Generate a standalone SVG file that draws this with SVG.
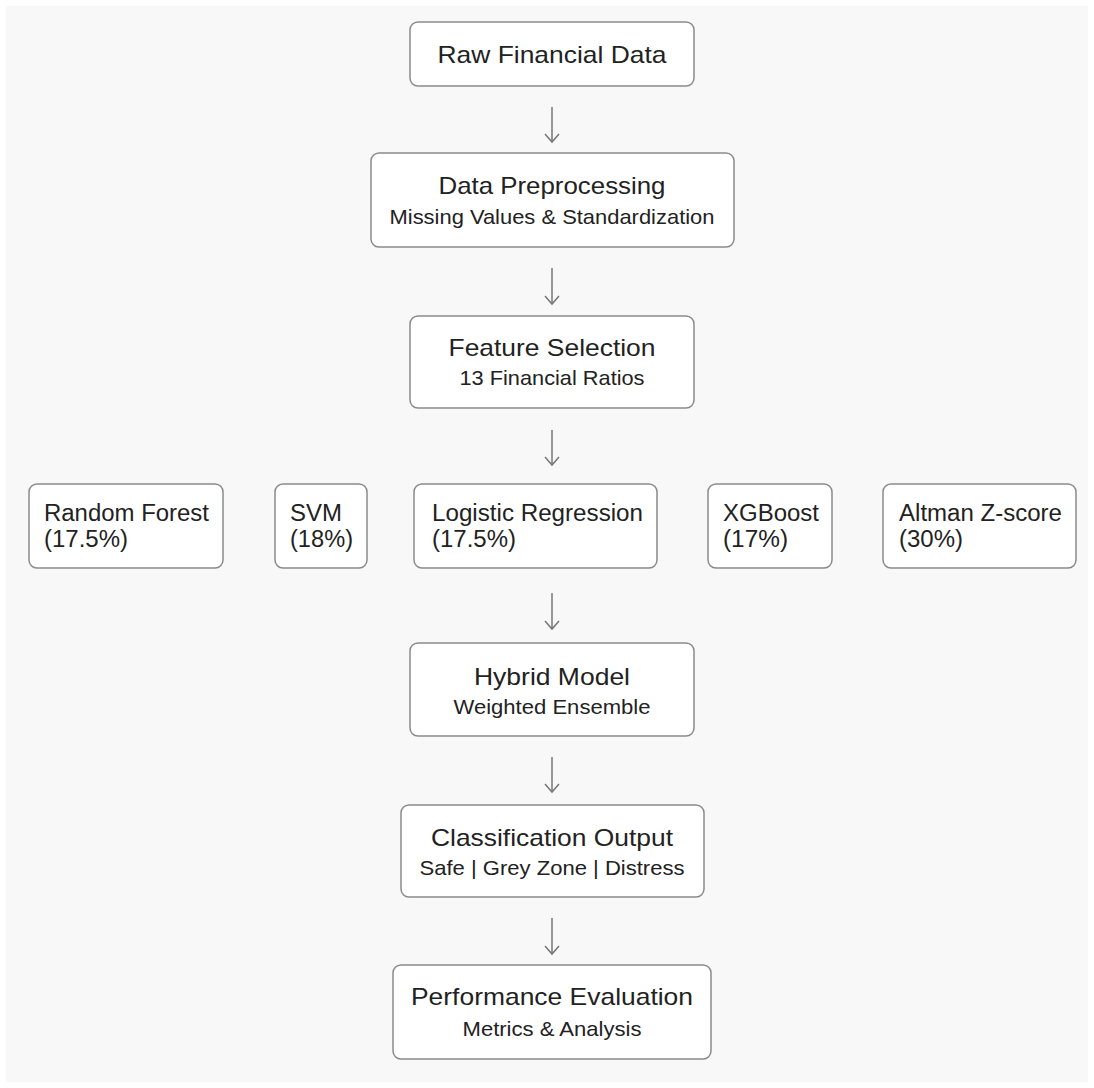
<svg xmlns="http://www.w3.org/2000/svg" width="1094" height="1088" viewBox="0 0 1094 1088">
<defs>
<style>
.box{fill:#fff;stroke:#8a8a8a;stroke-width:1.5}
.t{font-family:"Liberation Sans",Arial,sans-serif;font-size:24px;fill:#222;text-anchor:middle}
.s{font-family:"Liberation Sans",Arial,sans-serif;font-size:21px;fill:#222;text-anchor:middle}
.l{font-family:"Liberation Sans",Arial,sans-serif;font-size:23px;fill:#222}
.a{stroke:#777;stroke-width:1.5;fill:none}
</style>
</defs>
<rect x="0" y="0" width="1094" height="1088" fill="#fff"/>
<rect x="6" y="6" width="1082" height="1076" fill="#f8f8f8"/>
<g id="connectors">
<path class="a" d="M552,107 V142"/>
<path class="a" d="M545,134 L552,142 L559,134"/>
<path class="a" d="M552,268 V304"/>
<path class="a" d="M545,296 L552,304 L559,296"/>
<path class="a" d="M552,430 V465"/>
<path class="a" d="M545,457 L552,465 L559,457"/>
<path class="a" d="M552,593 V629"/>
<path class="a" d="M545,621 L552,629 L559,621"/>
<path class="a" d="M552,757 V792"/>
<path class="a" d="M545,784 L552,792 L559,784"/>
<path class="a" d="M552,918 V954"/>
<path class="a" d="M545,946 L552,954 L559,946"/>
</g>
<g id="raw">
<rect class="box" x="410" y="22" width="284" height="64" rx="8"/>
<text class="t" x="552" y="63" textLength="229" lengthAdjust="spacingAndGlyphs">Raw Financial Data</text>
</g>
<g id="preprocessing">
<rect class="box" x="371" y="153" width="363" height="94" rx="8"/>
<text class="t" x="552" y="194" textLength="227" lengthAdjust="spacingAndGlyphs">Data Preprocessing</text>
<text class="s" x="552" y="224" textLength="325" lengthAdjust="spacingAndGlyphs">Missing Values &amp; Standardization</text>
</g>
<g id="feature">
<rect class="box" x="410" y="316" width="284" height="92" rx="8"/>
<text class="t" x="552" y="356" textLength="207" lengthAdjust="spacingAndGlyphs">Feature Selection</text>
<text class="s" x="552" y="385" textLength="185" lengthAdjust="spacingAndGlyphs">13 Financial Ratios</text>
</g>
<g id="rf">
<rect class="box" x="29" y="484" width="194" height="84" rx="8"/>
<text class="l" x="44" y="521" textLength="165" lengthAdjust="spacingAndGlyphs">Random Forest</text>
<text class="l" x="44" y="547" textLength="84" lengthAdjust="spacingAndGlyphs">(17.5%)</text>
</g>
<g id="svm">
<rect class="box" x="275" y="484" width="92" height="84" rx="8"/>
<text class="l" x="290" y="521" textLength="52" lengthAdjust="spacingAndGlyphs">SVM</text>
<text class="l" x="290" y="547" textLength="63" lengthAdjust="spacingAndGlyphs">(18%)</text>
</g>
<g id="lr">
<rect class="box" x="414" y="484" width="243" height="84" rx="8"/>
<text class="l" x="432" y="521" textLength="211" lengthAdjust="spacingAndGlyphs">Logistic Regression</text>
<text class="l" x="432" y="547" textLength="84" lengthAdjust="spacingAndGlyphs">(17.5%)</text>
</g>
<g id="xgb">
<rect class="box" x="708" y="484" width="124" height="84" rx="8"/>
<text class="l" x="723" y="521" textLength="96" lengthAdjust="spacingAndGlyphs">XGBoost</text>
<text class="l" x="723" y="547" textLength="65" lengthAdjust="spacingAndGlyphs">(17%)</text>
</g>
<g id="altman">
<rect class="box" x="883" y="484" width="193" height="84" rx="8"/>
<text class="l" x="899" y="521" textLength="163" lengthAdjust="spacingAndGlyphs">Altman Z-score</text>
<text class="l" x="899" y="547" textLength="64" lengthAdjust="spacingAndGlyphs">(30%)</text>
</g>
<g id="hybrid">
<rect class="box" x="410" y="643" width="284" height="93" rx="8"/>
<text class="t" x="552" y="685" textLength="156" lengthAdjust="spacingAndGlyphs">Hybrid Model</text>
<text class="s" x="552" y="714" textLength="197" lengthAdjust="spacingAndGlyphs">Weighted Ensemble</text>
</g>
<g id="classification">
<rect class="box" x="401" y="805" width="303" height="92" rx="8"/>
<text class="t" x="552" y="846" textLength="242" lengthAdjust="spacingAndGlyphs">Classification Output</text>
<text class="s" x="552" y="875" textLength="265" lengthAdjust="spacingAndGlyphs">Safe | Grey Zone | Distress</text>
</g>
<g id="evaluation">
<rect class="box" x="393" y="965" width="318" height="94" rx="8"/>
<text class="t" x="552" y="1005" textLength="282" lengthAdjust="spacingAndGlyphs">Performance Evaluation</text>
<text class="s" x="552" y="1036" textLength="179" lengthAdjust="spacingAndGlyphs">Metrics &amp; Analysis</text>
</g>
</svg>
